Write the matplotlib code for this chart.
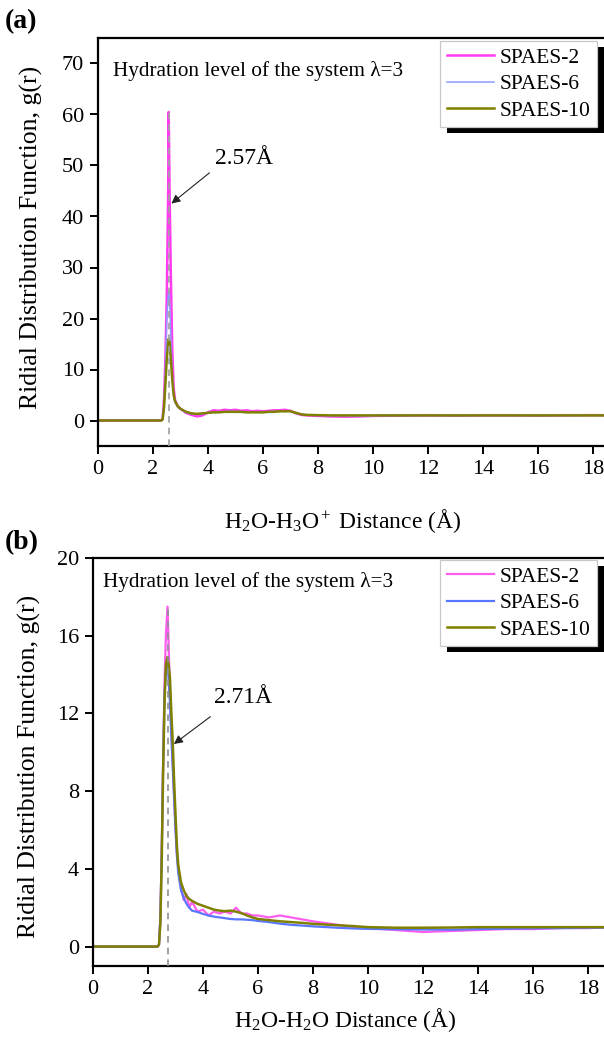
import numpy as np
import matplotlib
matplotlib.use("Agg")
import matplotlib.pyplot as plt
from matplotlib.patches import Rectangle
from matplotlib.transforms import IdentityTransform

plt.rcParams['font.family'] = ['Liberation Serif', 'DejaVu Serif']
plt.rcParams['mathtext.fontset'] = 'custom'
plt.rcParams['mathtext.rm'] = 'Liberation Serif'
plt.rcParams['mathtext.it'] = 'Liberation Serif:italic'

labels = ["SPAES-2", "SPAES-6", "SPAES-10"]

# (a) H2O - H3O+ rdf
r_a = [0.0, 2.30, 2.35, 2.40, 2.45, 2.50, 2.55, 2.57, 2.60, 2.65, 2.70, 2.75, 2.80, 2.90,
       3.00, 3.10, 3.20, 3.40, 3.60, 3.80, 4.00, 4.20, 4.40, 4.60, 4.80, 5.00, 5.20, 5.40,
       5.60, 5.80, 6.00, 6.20, 6.40, 6.60, 6.80, 7.00, 7.20, 7.40, 7.60, 8.00, 8.50, 9.00,
       9.50, 10.0, 11.0, 12.0, 13.0, 14.0, 15.0, 16.0, 17.0, 18.0, 19.0, 20.0]
g_a2 = [0, 0, 0.3, 4, 12, 24, 44, 60.5, 46, 28, 14, 6.5, 4.0, 2.8,
        2.3, 1.9, 1.5, 1.1, 0.8, 1.0, 1.6, 2.0, 1.9, 2.1, 2.0, 2.1, 1.9, 2.0,
        1.8, 1.9, 1.8, 1.9, 2.0, 2.0, 2.1, 1.9, 1.4, 1.1, 1.0, 0.9, 0.8, 0.75,
        0.8, 0.9, 0.95, 1.0, 0.95, 1.0, 1.0, 0.95, 1.0, 1.05, 1.0, 1.0]
g_a6 = [0, 0, 0.2, 3, 10, 20, 24, 25.5, 24, 16, 9, 5, 3.5, 2.6,
        2.2, 1.9, 1.6, 1.3, 1.2, 1.3, 1.5, 1.6, 1.7, 1.7, 1.8, 1.8, 1.7, 1.7,
        1.7, 1.7, 1.6, 1.7, 1.8, 1.8, 1.9, 1.8, 1.4, 1.2, 1.1, 1.0, 0.95, 0.9,
        0.9, 0.95, 1.0, 1.0, 1.0, 1.0, 1.0, 1.0, 1.0, 1.0, 1.0, 1.0]
g_a10 = [0, 0, 0.2, 2.5, 7, 12, 15, 16, 15.5, 12, 8, 5, 3.8, 2.8,
         2.3, 2.0, 1.7, 1.4, 1.3, 1.4, 1.5, 1.6, 1.6, 1.7, 1.7, 1.7, 1.7, 1.6,
         1.6, 1.6, 1.6, 1.7, 1.7, 1.8, 1.8, 1.8, 1.5, 1.2, 1.1, 1.05, 1.0, 1.0,
         1.0, 1.0, 1.0, 1.0, 1.0, 1.0, 1.0, 1.0, 1.0, 1.0, 1.0, 1.0]

# (b) H2O - H2O rdf
r_b = [0.0, 2.35, 2.40, 2.45, 2.50, 2.55, 2.60, 2.65, 2.71, 2.75, 2.80, 2.85, 2.90, 2.95,
       3.00, 3.05, 3.10, 3.20, 3.30, 3.40, 3.50, 3.60, 3.80, 4.00, 4.20, 4.40, 4.60, 4.80,
       5.00, 5.20, 5.40, 5.60, 5.80, 6.00, 6.40, 6.80, 7.20, 7.60, 8.00, 8.50, 9.00, 9.50,
       10.0, 11.0, 12.0, 13.0, 14.0, 15.0, 16.0, 17.0, 18.0, 19.0, 20.0]
g_b2 = [0, 0, 0.1, 1.5, 5, 9.5, 13.5, 16, 17.5, 15.5, 13, 11, 9.5, 7.8,
        6.2, 4.8, 4.0, 3.0, 2.4, 2.7, 2.0, 2.3, 1.8, 1.9, 1.6, 1.8, 1.7, 1.8,
        1.7, 2.0, 1.7, 1.7, 1.6, 1.6, 1.5, 1.6, 1.5, 1.4, 1.3, 1.2, 1.1, 1.0,
        0.95, 0.85, 0.75, 0.8, 0.85, 0.9, 0.9, 0.95, 0.95, 1.0, 1.0]
g_b6 = [0, 0, 0.1, 1.5, 5, 9.5, 13, 14.2, 14.5, 13.8, 12.5, 10.8, 9.2, 7.6,
        6.0, 4.7, 3.8, 2.9, 2.5, 2.2, 2.0, 1.85, 1.78, 1.68, 1.6, 1.54, 1.5, 1.46,
        1.42, 1.4, 1.4, 1.38, 1.36, 1.32, 1.26, 1.18, 1.12, 1.08, 1.04, 1.0, 0.96, 0.93,
        0.91, 0.89, 0.88, 0.87, 0.9, 0.92, 0.94, 0.95, 0.97, 0.98, 0.98]
g_b10 = [0, 0, 0.1, 1.2, 4.5, 9, 12.5, 14.5, 14.9, 14.5, 13.8, 12, 10.5, 8.5,
         6.8, 5.2, 4.2, 3.3, 2.9, 2.6, 2.45, 2.35, 2.2, 2.1, 2.0, 1.9, 1.85, 1.82,
         1.85, 1.8, 1.72, 1.6, 1.5, 1.42, 1.36, 1.3, 1.26, 1.22, 1.17, 1.13, 1.09, 1.05,
         1.0, 0.97, 0.97, 0.98, 1.0, 1.0, 1.0, 1.0, 1.0, 1.0, 1.0]

W, H = 604, 1039
fig = plt.figure(figsize=(W / 100, H / 100), dpi=100)

def panel(left, bottom_px, top_px):
    return fig.add_axes([left / W, 1 - bottom_px / H, 550 / W, (bottom_px - top_px) / H])

ax1 = panel(98, 446, 38)
ax2 = panel(93, 966, 558)

def style(ax, ylim, yticks):
    ax.set_xlim(0, 20)
    ax.set_ylim(*ylim)
    ax.set_xticks(np.arange(0, 21, 2))
    ax.set_yticks(yticks)
    ax.tick_params(direction='out', length=6, width=1.4, labelsize=16, pad=4)
    for s in ax.spines.values():
        s.set_linewidth(1.6)
    ax.set_ylabel('Ridial Distribution Function, g(r)', fontsize=18.5)

def add_legend(ax, anchor):
    leg = ax.legend(loc='upper right', bbox_to_anchor=anchor, bbox_transform=fig.transFigure,
                    borderaxespad=0, fontsize=15.5, handlelength=2.2, handletextpad=0.25,
                    labelspacing=0.3, borderpad=0.3, framealpha=1, fancybox=False,
                    edgecolor='#c8c8c8')
    leg.get_frame().set_linewidth(0.9)
    return leg

# panel (a)
ax1.plot(r_a, g_a2, color='#ff3cf0', lw=1.8, label=labels[0])
ax1.plot(r_a, g_a6, color='#8c9cff', lw=1.1, label=labels[1])
ax1.plot(r_a, g_a10, color='#7f7f00', lw=1.8, label=labels[2])
ax1.vlines(2.57, -5, 60.5, colors='#a0a0a0', linestyles=(0, (4, 3)), lw=1.2, zorder=4)
style(ax1, (-5, 75), np.arange(0, 71, 10))
ax1.set_xlabel(r'H$_2$O-H$_3$O$^+$ Distance (Å)', fontsize=17)
ax1.xaxis.set_label_coords(0.445, -0.15)
ax1.yaxis.set_label_coords(-0.1, 0.51)
ax1.text(0.028, 0.92, 'Hydration level of the system λ=3', transform=ax1.transAxes,
         fontsize=15.3, va='center')
ax1.annotate('', xy=(2.59, 42.2), xytext=(4.13, 48.9),
             arrowprops=dict(arrowstyle='-|>', color='#222222', lw=0.8, mutation_scale=13))
ax1.text(4.25, 51.3, '2.57Å', fontsize=17, va='center')
leg1 = add_legend(ax1, (597 / W, 1 - 41 / H))

# panel (b)
ax2.plot(r_b, g_b2, color='#ff5cf0', lw=1.6, label=labels[0])
ax2.plot(r_b, g_b6, color='#5a78ff', lw=1.6, label=labels[1])
ax2.plot(r_b, g_b10, color='#808000', lw=1.8, label=labels[2])
ax2.vlines(2.71, -1, 17.5, colors='#909090', linestyles=(0, (4, 3)), lw=1.2, zorder=4)
style(ax2, (-1, 20), np.arange(0, 21, 4))
ax2.set_xlabel(r'H$_2$O-H$_2$O Distance (Å)', fontsize=17)
ax2.xaxis.set_label_coords(0.458, -0.098)
ax2.yaxis.set_label_coords(-0.094, 0.49)
ax2.text(0.018, 0.94, 'Hydration level of the system λ=3', transform=ax2.transAxes,
         fontsize=15.3, va='center')
ax2.annotate('', xy=(2.86, 10.34), xytext=(4.35, 11.92),
             arrowprops=dict(arrowstyle='-|>', color='#222222', lw=0.8, mutation_scale=13))
ax2.text(4.4, 12.8, '2.71Å', fontsize=17, va='center')
leg2 = add_legend(ax2, (597 / W, 1 - 560 / H))

fig.text(5 / W, 1 - 22 / H, '(a)', fontsize=20, fontweight='bold', va='center')
fig.text(5 / W, 1 - 543 / H, '(b)', fontsize=20, fontweight='bold', va='center')

# solid black drop shadow behind each legend box
fig.canvas.draw()
for ax, leg in ((ax1, leg1), (ax2, leg2)):
    bb = leg.get_window_extent()
    sh = Rectangle((bb.x0 + 7, bb.y0 - 6), bb.width, bb.height, transform=IdentityTransform(),
                   facecolor='black', edgecolor='none', zorder=4.9, clip_on=False)
    ax.add_artist(sh)

fig.savefig('out.png', dpi=100)
